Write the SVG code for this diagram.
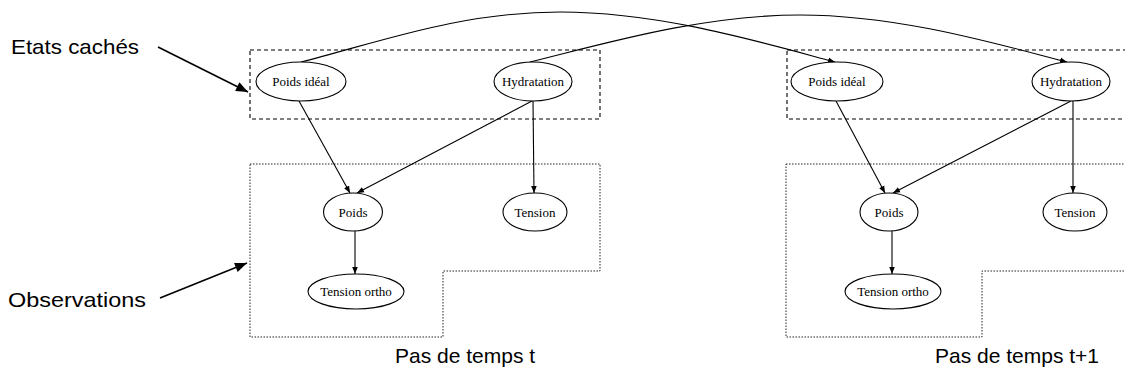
<svg xmlns="http://www.w3.org/2000/svg" width="1125" height="376" viewBox="0 0 1125 376">
<style>
.bg{fill:#fff}
.node ellipse{fill:#fff;stroke:#000;stroke-width:1.1}
.node text{font-family:"Liberation Serif","Times New Roman",serif;font-size:13px;fill:#000;text-anchor:middle}
.edge{fill:none;stroke:#000;stroke-width:1.1}
.hidden{fill:none;stroke:#000;stroke-width:1.1;stroke-dasharray:4,3}
.obs{fill:none;stroke:#222;stroke-width:1;stroke-dasharray:1.5,1.5}
.label{font-family:"Liberation Sans",Arial,sans-serif;font-size:21px;fill:#000}
.pointer{fill:none;stroke:#000;stroke-width:1.6}
</style>
<defs>
<marker id="ah" viewBox="0 0 10 10" refX="10" refY="5" markerWidth="7" markerHeight="7" markerUnits="userSpaceOnUse" orient="auto">
<path d="M0,1 L10,5 L0,9 Z" fill="#000"/>
</marker>
<marker id="big" viewBox="0 0 10 10" refX="10" refY="5" markerWidth="14" markerHeight="12" markerUnits="userSpaceOnUse" orient="auto">
<path d="M0,1 L10,5 L0,9 Z" fill="#000"/>
</marker>
</defs>
<rect class="bg" x="0" y="0" width="1125" height="376"/>

<g id="frames">
<rect class="hidden" x="250" y="50" width="350" height="69"/>
<path class="obs" d="M250,164 H600 V271 H443 V337 H250 Z"/>
<rect class="hidden" x="787" y="50" width="350" height="69"/>
<path class="obs" d="M786,164 H1140 V271 H982 V337 H786 Z"/>
</g>

<g id="labels">
<text class="label" x="11" y="54" textLength="128" lengthAdjust="spacingAndGlyphs">Etats cachés</text>
<text class="label" x="8" y="307" textLength="138" lengthAdjust="spacingAndGlyphs">Observations</text>
<text class="label" x="395" y="363">Pas de temps t</text>
<text class="label" x="935" y="363">Pas de temps t+1</text>
<path class="pointer" d="M158,47 L248,92" marker-end="url(#big)"/>
<path class="pointer" d="M160,298 L247,263" marker-end="url(#big)"/>
</g>

<g id="connectors">
<path class="edge" d="M301,62 C380,42 460,12 560,12 C660,12 760,42 835,62" marker-end="url(#ah)"/>
<path class="edge" d="M530,62 C600,45 700,15 800,15 C900,15 1000,45 1067,62" marker-end="url(#ah)"/>
<path class="edge" d="M299,101 L350,193" marker-end="url(#ah)"/>
<path class="edge" d="M532,101 L357,193" marker-end="url(#ah)"/>
<path class="edge" d="M533,101 L534,193" marker-end="url(#ah)"/>
<path class="edge" d="M355,231 L355,274" marker-end="url(#ah)"/>
<path class="edge" d="M836,101 L885,193" marker-end="url(#ah)"/>
<path class="edge" d="M1071,101 L893,193" marker-end="url(#ah)"/>
<path class="edge" d="M1073,101 L1073,193" marker-end="url(#ah)"/>
<path class="edge" d="M892,231 L892,274" marker-end="url(#ah)"/>
</g>

<g id="n_poids_ideal_t" class="node"><ellipse cx="301" cy="81.5" rx="45" ry="19.5"/><text x="301" y="86">Poids idéal</text></g>
<g id="n_hydratation_t" class="node"><ellipse cx="533" cy="81.5" rx="39" ry="19.5"/><text x="533" y="86">Hydratation</text></g>
<g id="n_poids_t" class="node"><ellipse cx="353" cy="212" rx="29.5" ry="19"/><text x="353" y="216.5">Poids</text></g>
<g id="n_tension_t" class="node"><ellipse cx="535" cy="212" rx="32" ry="19"/><text x="535" y="216.5">Tension</text></g>
<g id="n_tension_ortho_t" class="node"><ellipse cx="356" cy="291.5" rx="48" ry="17.5"/><text x="356" y="296">Tension ortho</text></g>

<g id="n_poids_ideal_t1" class="node"><ellipse cx="837" cy="81.5" rx="46" ry="19.5"/><text x="837" y="86">Poids idéal</text></g>
<g id="n_hydratation_t1" class="node"><ellipse cx="1071" cy="81.5" rx="39" ry="19.5"/><text x="1071" y="86">Hydratation</text></g>
<g id="n_poids_t1" class="node"><ellipse cx="889" cy="212" rx="29" ry="19"/><text x="889" y="216.5">Poids</text></g>
<g id="n_tension_t1" class="node"><ellipse cx="1075" cy="212" rx="32" ry="19"/><text x="1075" y="216.5">Tension</text></g>
<g id="n_tension_ortho_t1" class="node"><ellipse cx="893" cy="291.5" rx="48" ry="17.5"/><text x="893" y="296">Tension ortho</text></g>
</svg>
